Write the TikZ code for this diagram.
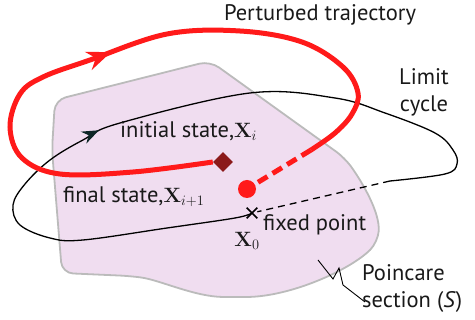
\documentclass[tikz,border=0pt]{standalone}
\usepackage[no-math]{fontspec}
\setmainfont{PT Sans}
\usepackage{tikz}
\usetikzlibrary{arrows.meta,decorations.markings,shapes.misc,shapes.geometric}
\usetikzlibrary{positioning}
\definecolor{trajred}{HTML}{FF1A1A}
\definecolor{statered}{HTML}{8B1A1A}
\definecolor{sectpink}{HTML}{F0DDF0}
\definecolor{sectgray}{HTML}{BBBBBB}
\definecolor{arrowdark}{HTML}{0D2626}
\tikzset{
    txt/.style={
           font=\fontsize{22.5}{27}\selectfont,
           text=black!90,
           inner sep=0pt,
           },
    section/.style={
           fill=sectpink,
           draw=sectgray,
           line width=1.8pt,
           rounded corners=11pt,
           },
    cycleline/.style={
           black,
           line width=1.3pt,
           },
    trajline/.style={
           trajred,
           line width=5pt,
           },
    fixmark/.style={
           cross out,
           draw=black,
           line width=1.7pt,
           minimum size=9pt,
           inner sep=0pt,
           },
}
\newcommand{\statevec}[1]{{\fontsize{20}{20}\selectfont$#1$}}

\begin{document}
\begin{tikzpicture}[x=1pt,y=-1pt]
        \useasboundingbox (0,0) rectangle (475,320);

        % POINCARE SECTION
        % gray outline, rounded corners at the top
        \draw[section] (62,273) -- (52,150) -- (55,100) -- (210,61) -- (345,158)
            .. controls (362,182) and (380,212) .. (378,242)
            .. controls (350,270) and (290,297) .. (235,297)
            .. controls (195,297) and (160,280) .. (130,276) -- cycle;

        % STATES
        \node[fixmark] (fixpt) at (252,213) {};
        \node[diamond, fill=statered, minimum size=20pt, inner sep=0pt] (initst) at (223,162) {};
        \node[circle, fill=trajred, minimum size=18pt, inner sep=0pt] (finalst) at (247,189) {};

        % LIMIT CYCLE
        % solid part, then dashed back to the fixed point
        \coordinate (lcgap) at (390,181);
        \draw[cycleline,
            postaction={decorate},
            decoration={markings,
                mark=at position 0.45 with {\arrow[arrowdark]{Stealth[length=17pt,width=13pt]}}}]
            plot[smooth, tension=0.6] coordinates {(fixpt.center) (235,218) (167,228) (83,240)
            (50,238) (20,225) (13,205) (25,184) (50,160) (83,140) (120,123) (250,93)
            (335,98) (385,113) (435,133) (453,150) (457,164) (445,174) (lcgap)};
        \draw[cycleline, dash pattern=on 7pt off 5pt] (lcgap) -- (fixpt);

        % PERTURBED TRAJECTORY
        \coordinate (trgap) at (311,150);
        \draw[trajline,
            postaction={decorate},
            decoration={markings,
                mark=at position 0.51 with {\arrow[trajred]{Stealth[length=24pt,width=19pt]}}}]
            plot[smooth, tension=0.6] coordinates {(initst.west) (133,172) (60,174) (22,158)
            (10,127) (20,94) (43,77) (90,60) (167,34) (240,31) (302,42) (343,67)
            (358,93) (352,114) (335,133) (trgap)};
        \draw[trajline, dash pattern=on 11pt off 6pt] (trgap) -- (finalst);

        % LABELS
        \node[txt] (trajlabel) at (320,15) {Perturbed trajectory};
        \node[txt, align=center] (cyclelabel) at (424,92) {Limit\\cycle};
        \node[txt, anchor=west] (initlabel) at (120,131) {initial state,\statevec{\mathbf{X}_i}};
        \node[txt, anchor=west] (finallabel) at (63,197) {final state,\statevec{\mathbf{X}_{i+1}}};
        \node[txt] (fixlabel) at (247,241) {\statevec{\mathbf{X}_0}};
        \node[txt, anchor=west] (fixtext) at (263,225) {fixed point};
        \node[txt, anchor=north west, align=left] (seclabel) at (362,264) {Poincare\\section (\textit{S})};

        % leader from the section to its label
        \coordinate (leadstart) at (318,260);
        \coordinate (leadend) at (365,302);
        \draw[black, line width=0.9pt] (leadstart) -- (333,279) -- (339,268) -- (343,285) -- (leadend);
\end{tikzpicture}
\end{document}
